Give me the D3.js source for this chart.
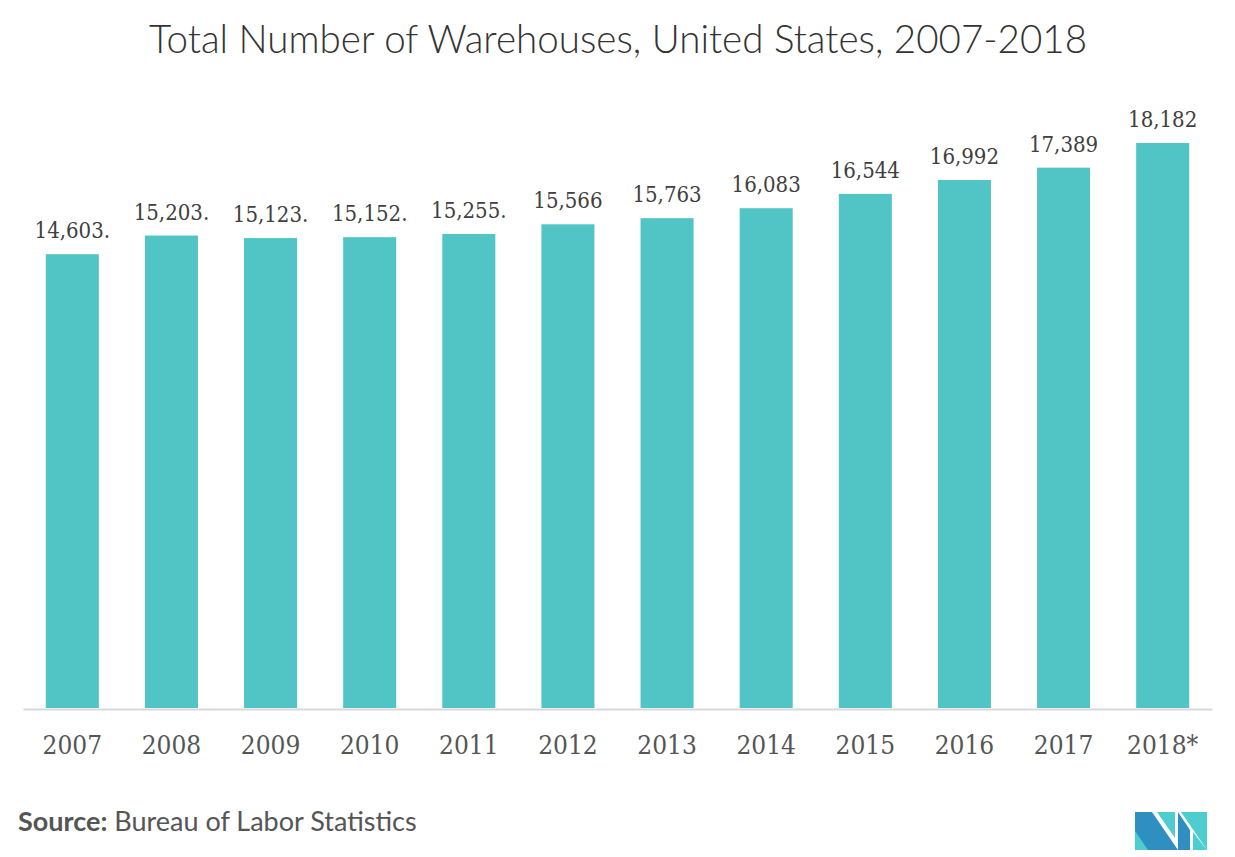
<!DOCTYPE html>
<html>
<head>
<meta charset="utf-8">
<script src="https://cdn.jsdelivr.net/npm/d3@7"></script>
<style>
  body { margin: 0; background: #fff; }
</style>
</head>
<body>
<div id="chart"></div>
<script>
const years = ["2007", "2008", "2009", "2010", "2011", "2012", "2013", "2014", "2015", "2016", "2017", "2018*"];
const warehouses = [14603, 15203, 15123, 15152, 15255, 15566, 15763, 16083, 16544, 16992, 17389, 18182];
const valueLabels = ["14,603.", "15,203.", "15,123.", "15,152.", "15,255.", "15,566", "15,763", "16,083", "16,544", "16,992", "17,389", "18,182"];

const SIZE = { width: 1235, height: 857 };
const MARGIN = { left: 23, right: 23, top: 143, bottom: 149 };
const BAR_COLOR = "#51c4c6";
const SLAB = "'DejaVu Serif Condensed', 'DejaVu Serif'";

const svg = d3.select("div#chart").append("svg")
    .attr("width", SIZE.width)
    .attr("height", SIZE.height);

svg.append("text")
    .attr("x", 618).attr("y", 53)
    .attr("text-anchor", "middle")
    .attr("textLength", 938)
    .attr("lengthAdjust", "spacingAndGlyphs")
    .style("font-family", "Lato")
    .style("font-weight", 300)
    .style("font-size", "40px")
    .style("fill", "#333")
    .text("Total Number of Warehouses, United States, 2007-2018");

const x = d3.scaleBand().domain(years)
    .range([MARGIN.left, SIZE.width - MARGIN.right])
    .paddingInner(0.465).paddingOuter(0.23);
const y = d3.scaleLinear().domain([0, 18182])
    .range([SIZE.height - MARGIN.bottom, MARGIN.top]);

svg.selectAll(".bar").data(warehouses).enter().append("rect")
    .attr("class", "bar")
    .attr("x", (d, i) => x(years[i]))
    .attr("width", x.bandwidth())
    .attr("y", d => y(d))
    .attr("height", d => y(0) - y(d))
    .attr("fill", BAR_COLOR);

svg.selectAll(".val").data(warehouses).enter().append("text")
    .attr("class", "val")
    .attr("x", (d, i) => x(years[i]) + x.bandwidth() / 2)
    .attr("y", d => y(d) - 16)
    .attr("text-anchor", "middle")
    .style("font-family", SLAB)
    .style("font-size", "22px")
    .style("fill", "#404040")
    .text((d, i) => valueLabels[i]);

const xAxis = d3.axisBottom(x).tickSize(0).tickPadding(27);
const xG = svg.append("g")
    .attr("transform", `translate(0, ${y(0) + 1})`)
    .call(xAxis);
xG.select(".domain").attr("stroke", "#d9d9d9").attr("stroke-width", 2);
xG.selectAll(".tick text")
    .style("font-family", SLAB)
    .style("font-size", "26px")
    .style("fill", "#555");

const src = svg.append("text")
    .attr("x", 18).attr("y", 831)
    .style("font-family", "Lato")
    .style("font-size", "27px")
    .style("fill", "#555");
src.append("tspan").style("font-weight", 700).text("Source:");
src.append("tspan").style("font-weight", 400).text(" Bureau of Labor Statistics");

// logo
const logo = svg.append("g").attr("transform", "translate(1135, 812)");
logo.append("polygon").attr("points", "0,0 17,0 43,38 0,38").attr("fill", "#2e8fc0");
logo.append("polygon").attr("points", "0,19 13,38 0,38").attr("fill", "#4ecdd0");
logo.append("polygon").attr("points", "22,0 40,0 40,26").attr("fill", "#4ecdd0");
logo.append("polygon").attr("points", "43,0 43,38 55,38 55,18").attr("fill", "#2e8fc0");
logo.append("polygon").attr("points", "46,0 72,0 72,38").attr("fill", "#4ecdd0");
logo.append("polygon").attr("points", "58,20 72,38 58,38").attr("fill", "#4ecdd0");
</script>
</body>
</html>
